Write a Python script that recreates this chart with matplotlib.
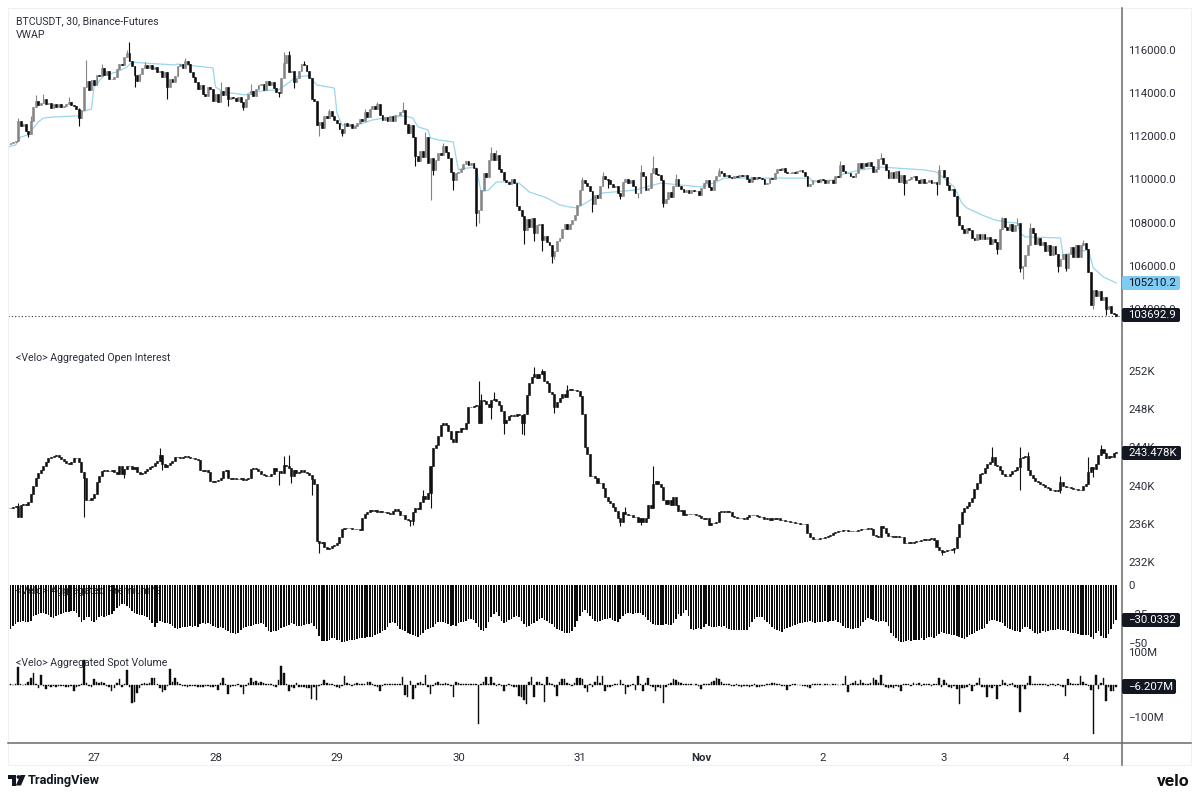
import numpy as np
import matplotlib
matplotlib.use('Agg')
import matplotlib.pyplot as plt
from matplotlib.patches import Rectangle, FancyBboxPatch, Circle, Polygon
from matplotlib.transforms import Bbox

plt.rcParams['font.family'] = ['Roboto', 'DejaVu Sans']

# 30 minute bars
price_close = [
    111650,111700,111720,111780,112700,112450,112550,112250,112100,112700,
    113350,113650,113450,113550,113700,113500,113550,113300,113500,113350,
    113500,113350,113400,113500,113600,113450,113400,113250,112850,113200,
    114300,114550,114150,114600,114350,114850,114800,115150,114850,115000,
    114650,114650,114750,115100,115350,115300,115650,115850,115500,115250,
    114850,114550,114900,115150,115300,115150,115300,115100,115200,114950,
    115000,114750,114950,114300,114650,114500,114800,115250,115350,115150,
    115500,115350,114950,114750,114500,114200,114350,113950,113850,114300,
    114200,113650,113950,113600,114100,113900,114300,113700,113800,113750,
    113650,113800,113600,113350,113700,113950,114100,113850,114200,114350,
    114400,114150,114550,114350,114500,114250,114050,114000,114700,115400,
    115750,114950,115000,114500,114700,115000,115350,115300,115000,114700,
    113700,113650,112500,112650,112400,112950,112850,113150,112950,112750,
    112600,112350,112150,112600,112450,112550,112400,112450,112600,112800,
    112700,113100,112900,113250,113400,113250,113500,113000,112750,112900,
    112700,112950,112700,113000,113000,113100,113200,112550,112150,112500,
    111950,111100,110850,111300,111050,111950,110750,111000,110450,110900,
    111200,111150,111550,111250,111000,110350,109950,110300,110350,110500,
    110700,110850,110650,110750,110550,108450,108600,109500,110300,110100,
    110900,111200,110900,111150,110500,110350,109950,109900,109800,110000,
    109850,108750,108600,108300,107650,108150,107800,108200,107500,107900,
    107950,107200,107400,107100,106950,106450,106700,107150,107300,107700,
    107950,107700,107950,108100,108350,108800,109500,109950,109850,109700,
    109450,108850,109300,109150,109700,110150,110000,109950,109800,109650,
    109700,109350,109250,109900,110000,109850,109950,109700,109350,109350,
    110350,110150,109500,109600,110300,110550,110250,110200,109950,108900,
    109100,109400,109200,109700,110000,109700,109550,109400,109500,109350,
    109500,109450,109450,109300,109600,109850,109950,109650,109500,109950,
    110150,110400,110300,110150,110200,110100,110050,110150,110100,110200,
    110150,110200,110000,109900,110100,110000,110100,110050,110000,109800,
    109850,110050,110000,110300,110500,110450,110550,110350,110300,110300,
    110350,110300,110400,110450,110350,110150,109700,109800,109950,109950,
    109900,110000,109950,109850,109950,109950,109850,110150,110100,110650,
    110400,110300,110300,110150,110100,110300,110750,110550,110750,110600,
    110800,110600,110350,110500,110950,111000,110700,110450,110050,110350,
    110050,110400,109900,110200,109850,109950,110000,110100,110150,109950,
    109850,110000,109850,109900,109950,109850,109900,109800,110450,110450,
    110100,109750,109500,109550,109250,108300,107900,107700,107500,107750,
    107650,107300,107200,107450,107250,107450,107250,107350,107000,107250,
    107100,106800,107700,108200,107800,107650,107950,107600,107900,108000,
    105900,106000,106500,106950,107750,107500,107000,107300,106950,107100,
    106700,106950,106500,106900,106550,106000,106300,106550,105900,106550,
    106850,106400,106950,106400,106950,107050,106800,105700,104200,104900,
    104600,104850,104400,104550,104000,104150,103800,103750,103692.9]

# only the bars with a visible wick
price_hi_bars = [4,9,11,14,24,28,31,37,47,48,54,70,84,96,109,111,117,127,141,146,156,165,172,191,193,227,235,250,255,258,264,281,329,345,368,393,399,404,425]
price_hi_vals = [112850,112950,113900,113950,113800,113300,115550,115350,116000,116350,115450,115600,114500,114400,115900,115950,115500,113250,113250,113600,113600,112200,111700,111500,111350,110100,110350,110650,111100,110200,110250,110550,110850,111200,110650,108250,108200,108000,107200]
price_lo_bars = [8,28,50,63,87,93,107,113,123,132,161,167,168,176,185,186,204,208,211,215,216,231,237,242,249,259,354,367,391,400,401,415,418,429,434]
price_lo_vals = [111950,112450,114300,113700,113400,113200,113800,114250,112000,112000,110600,109050,110200,109500,107850,108000,107000,107150,106700,106150,106300,108500,109600,109100,109150,108700,109300,109300,106550,105700,105400,105700,105750,104000,103700]

vwap_bars = [0,3,5,8,10,12,14,18,28,29,33,34,38,43,47,49,53,66,67,81,82,85,94,96,105,107,110,114,119,122,129,130,132,137,144,149,157,160,162,166,167,170,176,178,179,185,187,190,193,198,202,206,213,218,222,225,235,248,255,258,274,280,283,317,318,326,331,332,337,345,362,367,374,377,379,385,390,394,399,400,402,416,417,420,427,429,433,438]
vwap_vals = [111500,111590,111960,112060,112380,112660,112840,112890,112940,113120,113260,114280,114830,114970,115200,115430,115390,115300,115340,115160,114280,114050,113910,114050,114140,114140,114400,114750,114800,114370,114230,113080,112520,112470,112750,112840,112940,112840,112430,112290,111920,111830,111730,110440,110490,110570,109420,109510,109880,109880,109830,109420,109140,108820,108720,108680,109370,109510,109740,109830,109650,109880,110060,110060,109880,109970,110300,110300,110440,110570,110440,110340,109650,108900,108680,108350,108120,108030,107980,107520,107340,107290,106500,106590,106730,105900,105480,105210]

oi_close = [
    237.7,237.7,237.8,237.9,236.7,238.0,238.1,238.0,238.3,239.1,
    240.0,240.8,241.3,241.6,242.0,242.5,242.9,243.0,243.1,243.2,
    243.0,242.8,242.6,242.4,242.3,242.5,242.9,242.9,242.5,241.4,
    240.8,238.5,238.5,238.7,239.1,240.4,241.0,241.5,241.6,241.5,
    241.5,241.6,241.4,241.2,242.0,241.2,241.7,242.0,242.1,241.7,
    241.9,241.4,241.2,241.3,241.5,241.7,241.9,242.1,242.4,242.6,
    243.2,242.3,241.9,242.2,242.4,242.6,243.0,243.0,242.9,243.0,
    243.1,243.0,242.9,242.9,242.8,242.7,241.6,241.5,241.6,241.4,
    240.5,240.4,240.5,240.6,240.8,241.5,241.6,240.8,240.7,240.8,
    240.7,240.7,240.8,240.6,240.7,240.8,241.7,241.8,241.7,241.5,
    241.2,241.1,241.0,241.0,241.2,241.8,241.5,241.5,241.3,242.2,
    242.0,241.8,241.0,241.6,241.3,241.4,241.6,241.4,241.3,241.1,
    240.7,240.2,234.2,234.0,234.1,233.6,233.4,233.5,233.7,233.8,
    234.0,234.6,235.4,235.6,235.6,235.6,235.4,235.4,235.4,235.3,
    236.6,237.0,237.2,237.4,237.3,237.4,237.2,237.3,237.2,237.2,
    237.1,237.0,237.3,237.5,237.3,236.9,236.9,236.5,236.4,236.3,
    237.2,237.7,237.5,238.3,238.9,238.6,239.2,242.0,243.9,244.2,
    245.2,246.3,246.5,246.3,245.7,244.9,244.6,245.7,245.6,246.0,
    245.9,246.5,248.2,248.2,248.3,248.4,246.5,249.0,248.9,248.5,
    248.2,249.0,249.1,248.9,248.4,247.8,246.5,246.9,247.3,247.4,
    247.3,247.5,247.4,246.5,247.5,249.5,250.7,251.4,251.7,251.3,
    251.7,252.0,251.0,250.7,249.8,249.6,248.2,248.7,249.2,249.6,
    249.3,250.0,250.1,250.0,250.0,249.9,249.4,247.5,244.0,243.3,
    241.0,241.0,240.8,240.3,240.3,239.7,238.8,238.4,238.2,237.8,
    237.3,236.6,236.2,237.2,237.0,236.9,236.9,236.7,236.7,236.2,
    236.6,236.2,236.6,238.0,237.7,240.2,240.5,240.2,239.8,238.5,
    238.1,238.5,238.0,238.8,238.0,237.3,237.4,236.9,237.0,237.0,
    237.0,237.0,236.9,236.8,236.6,236.5,236.6,235.9,236.1,236.1,
    236.2,237.2,237.3,237.2,237.3,237.2,236.8,236.7,236.6,236.6,
    236.6,236.5,236.7,236.9,236.9,236.9,236.8,236.7,236.7,236.5,
    236.6,236.4,236.6,236.5,236.6,236.4,236.4,236.3,236.3,236.2,
    236.2,236.1,236.1,236.0,236.0,236.0,235.0,234.6,234.4,234.4,
    234.4,234.5,234.5,234.6,234.7,234.8,235.0,235.1,235.2,235.2,
    235.3,235.3,235.2,235.2,235.2,235.2,235.3,235.4,235.4,235.5,
    235.6,235.5,234.8,234.7,234.6,235.8,235.6,235.0,234.7,234.7,
    234.6,234.7,234.6,234.6,234.0,234.0,234.1,234.0,234.1,234.2,
    234.2,234.3,234.4,234.3,234.4,234.5,234.3,233.6,233.3,233.0,
    233.1,233.2,233.3,233.4,233.5,234.6,236.0,237.2,237.6,237.9,
    238.3,238.7,239.6,240.3,241.2,241.3,241.8,242.3,242.5,243.0,
    242.2,242.0,241.6,241.2,241.0,241.0,241.2,241.5,241.6,241.9,
    242.9,243.0,243.1,241.6,241.1,240.8,240.5,240.4,240.2,240.1,
    239.9,239.7,239.5,239.5,239.4,239.5,240.4,240.0,239.9,239.9,
    239.7,239.6,239.6,239.5,239.5,240.0,240.2,241.4,241.9,241.7,
    242.3,243.2,243.8,243.4,242.9,243.1,243.0,243.4,243.478]

oi_hi_bars = [4,60,109,111,121,164,186,187,192,208,211,221,244,255,389,400,403,416,427,432]
oi_hi_vals = [238.2,243.9,243.1,243.2,240.6,239.5,250.9,249.6,249.8,252.4,252.2,250.5,237.8,242.0,244.0,244.0,243.5,241.0,243.0,244.2]
oi_lo_bars = [30,46,61,107,112,120,123,159,160,167,170,191,196,203,204,216,242,250,369,374,400,416,429]
oi_lo_vals = [236.7,240.8,241.6,240.1,240.3,239.0,232.9,235.8,235.9,237.6,244.8,247.0,245.4,245.4,245.3,247.6,235.8,235.9,232.7,232.9,239.5,239.2,240.9]

premium = [
    -40,-38,-35.5,-33.5,-32,-31.5,-31,-31.5,-32,-31,
    -27,-25.5,-25,-24.5,-24.5,-25,-26,-28,-28.5,-27,
    -26,-25,-24,-23,-23,-22.5,-22,-24,-28,-31.5,
    -30,-28,-28,-31,-32,-30,-28,-27,-27.5,-26.5,
    -26,-25,-22,-20,-18,-16,-16.5,-18,-20,-22,
    -24,-25,-25.5,-26,-27,-28,-30,-33,-36,-33,
    -31,-32,-33,-33,-34,-35,-37,-38,-37,-36,
    -36,-36,-35,-36,-35.5,-36,-34,-33,-33.5,-33,
    -34,-35,-36,-37,-36,-37,-39,-40,-41,-41,
    -42,-41,-39,-37,-36,-35,-35,-34.5,-34,-34,
    -33,-34,-36,-40,-40.5,-40,-40,-39,-37,-36,
    -35,-34.5,-33,-34,-35,-35,-35,-34.5,-34,-33.5,
    -33,-35,-38,-44,-48.5,-48,-48,-47,-46,-46,
    -47,-47.5,-49,-49,-48,-47.5,-47.5,-47,-46.5,-46,
    -46,-45.5,-45,-44.5,-44.5,-43,-42,-41,-40,-39,
    -36,-33,-31.6,-33,-35,-38,-39,-40,-41,-42,
    -43,-44,-44.5,-43,-41,-39,-38,-37.4,-36,-34,
    -32,-31.6,-32,-33,-34,-35,-34.5,-35,-33,-32,
    -32,-31,-29.5,-29,-30,-33,-36,-39,-40,-37,
    -32,-28,-25,-23,-27,-31,-33,-32,-30,-29,
    -28,-27,-28,-31,-34,-36,-35,-34,-33,-31,
    -29.5,-28.7,-30,-31,-33,-34,-36,-38,-39,-40,
    -41.7,-41.5,-41,-40,-36,-31,-27,-23,-21.6,-24,
    -27,-29,-31,-31.6,-31,-30,-29,-29,-28.7,-30,
    -31,-31.6,-29,-27,-25,-24.4,-24.5,-25,-24.5,-24.5,
    -24.4,-26,-28,-30,-32,-34,-34.5,-34.5,-34.5,-34.5,
    -34,-34.5,-34.5,-33,-29,-25,-27,-24,-21.6,-27,
    -38,-38.8,-38,-37,-38,-36,-34,-35,-36,-35.9,
    -36,-35,-36,-35,-37,-38,-39,-38.8,-39,-38.5,
    -38.5,-38.5,-38.8,-36,-32,-29,-27.5,-27.3,-28,-30,
    -32,-34,-36,-38,-39,-40,-40.2,-38,-37,-36,
    -35,-34.5,-34,-33,-33,-32,-31.6,-31,-32,-32.5,
    -32,-32,-32,-31,-32,-31,-31,-30,-31.6,-33,
    -35,-37,-37,-38,-38,-37,-37.4,-35,-32,-30,
    -28.7,-29,-30,-31,-32,-31,-31,-31.6,-35,-41,
    -44,-46,-48,-48.9,-49,-48,-47.5,-48,-47,-47,
    -47.4,-46,-47,-46,-45,-45,-46,-44,-42,-40.2,
    -41,-42,-42.5,-43,-43,-44,-45,-46,-46.8,-45,
    -43,-42,-41.7,-40,-39,-38,-37,-34,-31,-30.2,
    -30,-31,-31.6,-33,-35,-37.4,-38,-39,-39.5,-40,
    -40.2,-38,-36,-35.9,-38,-40,-41.7,-42,-41,-40,
    -40.2,-40,-39,-39,-39,-38,-38.8,-38.8,-39,-40,
    -41,-41.7,-41,-42,-43,-43,-43,-43,-45,-46.8,
    -41,-40,-44,-46,-46,-42,-38,-34,-30.0332]

spot_volume = [
    2,3,1,2,56,2,1,3,10,20,
    36,3,-10,30,-3,-13,-4,-6,-3,-5,
    -3,-4,-3,-5,-7,-4,-17,-5,-3,3,
    77,5,-3,-5,17,8,6,9,5,-4,
    -6,-20,-8,5,17,-5,3,46,-5,-56,
    -51,-25,-8,4,6,3,5,20,22,3,
    -9,-22,-15,-4,48,9,23,8,3,-3,
    -4,-7,-3,-2,-4,-6,-5,-7,-3,-4,
    -6,-5,-3,-15,5,22,4,-27,-6,-4,
    -3,3,-5,-27,-4,5,20,8,12,6,
    9,5,3,4,3,-3,-5,15,58,36,
    3,-17,-5,-8,5,-6,-7,-5,-8,-10,
    -43,-6,-46,-4,3,15,5,3,2,-4,
    -5,-8,-3,29,7,3,-3,4,5,3,
    4,3,9,10,4,-3,-5,-17,-4,2,
    2,2,3,2,4,3,26,-31,-38,12,
    -43,-10,5,8,4,31,-6,-28,-3,5,
    9,4,3,7,4,-4,-38,8,5,3,
    3,2,3,4,3,2,-120,3,9,26,
    4,26,5,-3,2,-4,-18,-3,2,-4,
    -6,-5,-33,-38,-46,-59,8,26,-36,9,
    10,4,-53,24,7,4,-6,-33,8,18,
    18,6,4,-3,7,22,20,18,-8,-23,
    3,-5,8,27,6,27,-17,-7,-6,-4,
    2,4,15,3,-28,-6,-3,3,-14,29,
    3,-17,6,22,-4,-6,-17,-5,-8,-54,
    -6,3,5,18,14,8,5,3,2,2,
    3,1,2,-2,-13,3,4,2,8,12,
    20,18,8,4,2,3,-3,-2,2,-3,
    -5,-2,-3,-6,-3,3,-5,-7,-4,-3,
    2,4,6,5,3,3,-3,-4,-15,-4,
    2,2,1,1,-2,-3,-5,-10,2,2,
    3,2,1,2,2,1,2,2,1,1,
    2,29,-23,4,6,12,4,15,7,3,
    4,6,20,15,5,31,4,-6,-10,-5,
    -8,-4,-6,-17,3,4,3,-4,5,3,
    5,-3,4,3,3,-4,3,4,20,-6,
    15,5,-5,-8,-4,-12,-58,-10,-8,-5,
    3,-20,-4,6,20,-6,-5,-36,-5,-8,
    -4,-43,-4,15,5,-4,3,6,-5,-8,
    -84,-4,-13,6,28,3,2,2,3,4,
    2,-2,2,3,-2,3,-4,-5,-34,18,
    5,3,4,3,28,8,3,-2,-14,-152,
    31,-13,5,20,-48,-5,-17,-17,-6.207]

day_bars = [34, 82, 130, 178, 226, 274, 322, 370, 418]
day_labels = ['27', '28', '29', '30', '31', 'Nov', '2', '3', '4']
price_ticks = [104000, 106000, 108000, 110000, 112000, 114000, 116000]
oi_ticks = [232, 236, 240, 244, 248, 252]
premium_ticks = [0, -25, -50]
spot_ticks = [100, -100]

W, H = 1200, 795
PLOT_L, PLOT_R, BAR_PX = 8, 1122, 2.53
TEXT = '#2a2e39'
DARK = '#131722'

fig = plt.figure(figsize=(W / 100, H / 100), dpi=100, facecolor='white')


def pane(top, bottom, v_top, v_bottom):
    ax = fig.add_axes([PLOT_L / W, 1 - bottom / H, (PLOT_R - PLOT_L) / W, (bottom - top) / H])
    ax.set_xlim(0, (PLOT_R - PLOT_L) / BAR_PX)
    ax.set_ylim(v_bottom, v_top)
    ax.patch.set_alpha(0)
    for s in ax.spines.values():
        s.set_visible(False)
    ax.yaxis.tick_right()
    ax.tick_params(axis='y', length=0, pad=4.3, labelsize=8.2, labelcolor=TEXT)
    ax.tick_params(axis='x', length=0, labelbottom=False)
    ax.set_xticks([])
    return ax


def candles(ax, close, hi_bars, hi_vals, lo_bars, lo_vals, up_color, down_color, width):
    close = np.array(close, dtype=float)
    x = np.arange(len(close))
    opens = np.r_[close[0], close[:-1]]
    up = close >= opens
    high = np.maximum(opens, close)
    low = np.minimum(opens, close)
    high[hi_bars] = hi_vals
    low[lo_bars] = lo_vals
    ax.vlines(x[up], low[up], high[up], color=up_color, lw=0.8, zorder=2)
    ax.vlines(x[~up], low[~up], high[~up], color=down_color, lw=0.8, zorder=2)
    ax.bar(x[up], (close - opens)[up], bottom=opens[up], width=width, color=up_color,
           edgecolor=up_color, lw=0.4, zorder=3)
    ax.bar(x[~up], (close - opens)[~up], bottom=opens[~up], width=width, color=down_color,
           edgecolor=down_color, lw=0.4, zorder=3)


# price
ax1 = pane(8, 345, 117935, 102333)
ax1.plot(vwap_bars, vwap_vals, color='#9ad6ec', lw=0.9, zorder=1)
candles(ax1, price_close, price_hi_bars, price_hi_vals, price_lo_bars, price_lo_vals,
        '#858585', '#0c0c0c', 0.72)
ax1.axhline(price_close[-1], color='#333333', lw=0.8, ls=(0, (1, 2)), zorder=1)
ax1.set_yticks(price_ticks, [f'{v}.0' for v in price_ticks])

# open interest
ax2 = pane(345, 578, 254.72, 230.32)
candles(ax2, oi_close, oi_hi_bars, oi_hi_vals, oi_lo_bars, oi_lo_vals, '#111111', '#111111', 0.8)
ax2.set_yticks(oi_ticks, [f'{v}K' for v in oi_ticks])

# premium
ax3 = pane(578, 648, 6.03, -54.3)
ax3.bar(np.arange(len(premium)), premium, width=0.62, color='#0c0c0c', lw=0, zorder=2)
ax3.set_yticks(premium_ticks, ['0', '\u221225', '\u221250'])

# spot volume
ax4 = pane(648, 743, 113.8, -178.5)
ax4.bar(np.arange(len(spot_volume)), spot_volume, width=0.6, color='#0c0c0c', edgecolor='#0c0c0c', lw=0.3, zorder=2)
ax4.set_yticks(spot_ticks, ['100M', '\u2212100M'])
ax4.set_xticks(day_bars, day_labels)
ax4.tick_params(axis='x', labelbottom=True, length=0, pad=7, labelsize=8.2, labelcolor=TEXT)
ax4.get_xticklabels()[5].set_fontweight('bold')
for lbl in ax4.get_yticklabels():
    lbl.set_clip_box(Bbox([[PLOT_R, 0], [W, H - 648]]))
    lbl.set_clip_on(True)

# overlay in pixel coordinates: frame, legends, value boxes, logos
over = fig.add_axes([0, 0, 1, 1], zorder=10)
over.set_xlim(0, W)
over.set_ylim(H, 0)
over.axis('off')
over.patch.set_alpha(0)

over.plot([8, 1191, 1191, 8, 8], [8, 8, 765, 765, 8], color='#f0f0f0', lw=0.8)
over.plot([8, 1191], [743, 743], color='#6a6a6a', lw=1.1)
over.plot([1122, 1122], [8, 765], color='#6a6a6a', lw=1.1)

for txt, y in [('BTCUSDT, 30, Binance-Futures', 21), ('VWAP', 35),
               ('<Velo> Aggregated Open Interest', 358),
               ('<Velo> Aggregated Spot Volume', 663)]:
    over.text(15.5, y, txt, fontsize=7.6, color=TEXT, va='center', ha='left')
# this one sits behind the bars
ax3.text(15.5, 591, '<Velo> Aggregated Premium %', fontsize=7.6, color=TEXT, va='center', ha='left',
         transform=over.transData, zorder=1)


def value_box(y0, y1, x1, txt, bg, fg):
    over.add_patch(FancyBboxPatch((1122, y0), x1 - 1122, y1 - y0, boxstyle='round,pad=0,rounding_size=2',
                                  fc=bg, ec='none', zorder=5))
    over.text(1128, (y0 + y1) / 2 + 0.3, txt, fontsize=8.2, color=fg, va='center', ha='left', zorder=6)


value_box(276, 290, 1180, '105210.2', '#7fcbf3', DARK)
value_box(308, 322, 1180, '103692.9', DARK, 'white')
value_box(446, 460, 1181, '243.478K', DARK, 'white')
value_box(613, 627, 1180, '\u221230.0332', DARK, 'white')
value_box(679, 694, 1176, '\u22126.207M', DARK, 'white')

# TradingView mark and wordmark
over.add_patch(Rectangle((8, 775), 8, 4, fc=DARK, ec='none'))
over.add_patch(Rectangle((11.5, 775), 4.5, 10.5, fc=DARK, ec='none'))
over.add_patch(Circle((18.5, 777), 1.9, fc=DARK, ec='none'))
over.add_patch(Polygon([[20.5, 775], [25.5, 775], [21, 785.5], [15.8, 785.5]], fc=DARK, ec='none'))
over.text(28, 780.5, 'TradingView', fontsize=9.2, fontweight='semibold', color=DARK, va='center', ha='left')
over.text(1190, 781, 'velo', fontsize=12.5, fontweight='bold', color='#111111', va='center', ha='right')

fig.savefig('out.png', dpi=100, facecolor='white')
